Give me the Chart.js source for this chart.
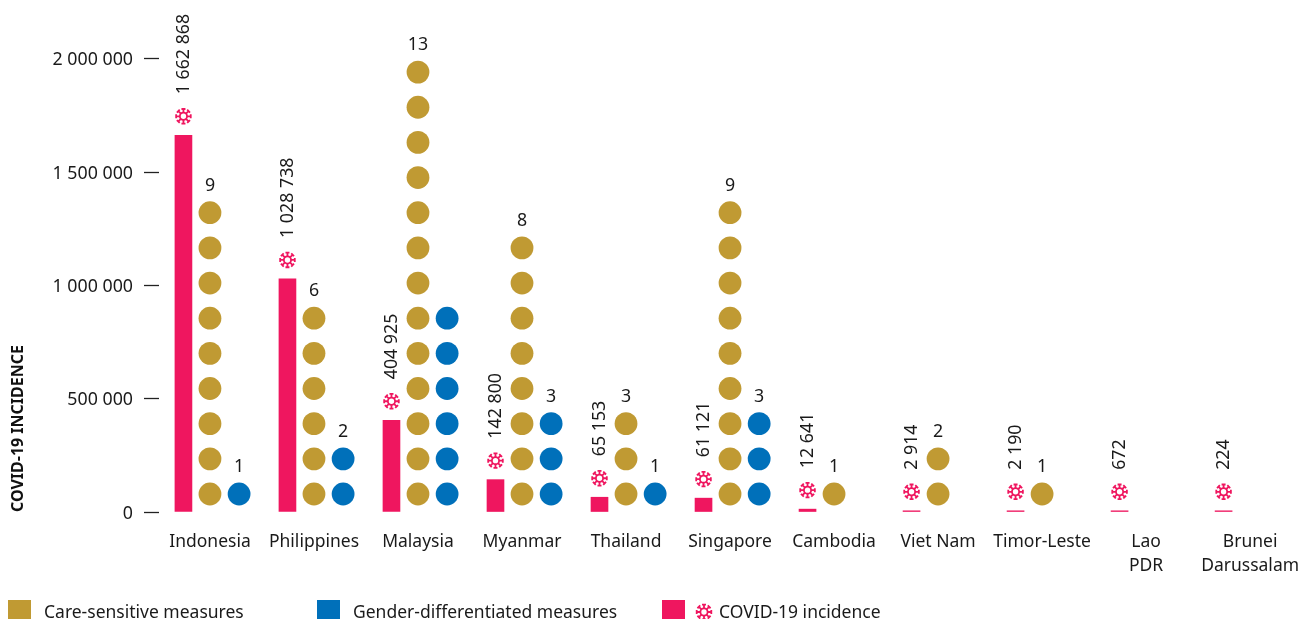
<!DOCTYPE html>
<html><head><meta charset="utf-8">
<script src="https://cdn.jsdelivr.net/npm/chart.js@4"></script>
<style>
html,body{margin:0;padding:0;background:#fff;width:1299px;height:619px;overflow:hidden;position:relative}
canvas#c{position:absolute;left:0;top:0}
.lg{position:absolute;font:17.5px "Noto Sans",sans-serif;color:#1a1a1a;white-space:nowrap;line-height:24px;top:599px}
.sq{position:absolute;top:600px;width:23px;height:24px}
</style></head><body>
<canvas id="c" width="1299" height="619"></canvas>
<div class="sq" style="left:8px;background:#c09a33"></div><div class="lg" style="left:44px">Care-sensitive measures</div>
<div class="sq" style="left:317px;background:#0070ba"></div><div class="lg" style="left:353px">Gender-differentiated measures</div>
<div class="sq" style="left:662px;background:#ef165f"></div><canvas id="lgIcon" width="20" height="20" style="position:absolute;left:694px;top:602px"></canvas><div class="lg" style="left:719px">COVID-19 incidence</div>
<script>
const categories=["Indonesia","Philippines","Malaysia","Myanmar","Thailand","Singapore","Cambodia","Viet Nam","Timor-Leste",["Lao","PDR"],["Brunei","Darussalam"]];
const incidence=[1662868,1028738,404925,142800,65153,61121,12641,2914,2190,672,224];
const careMeasures=[9,6,13,8,3,9,1,2,1,0,0];
const genderMeasures=[1,2,6,3,1,3,0,0,0,0,0];
const genderLabelled=[true,true,false,true,true,true,false,false,false,false,false];
const yTicks=[0,500000,1000000,1500000,2000000];
const PINK="#ef165f",GOLD="#c09a33",BLUE="#0070ba",INK="#1a1a1a",FONT='"Noto Sans",sans-serif';
const BAR_OFF=-0.255,GENDER_OFF=0.28;
const fmt=v=>String(v).replace(/\B(?=(\d{3})+$)/g," ");
function virus(ctx,x,y){
  ctx.save();ctx.translate(x,y);ctx.strokeStyle=PINK;ctx.lineWidth=1.8;
  ctx.beginPath();ctx.arc(0,0,3.6,0,Math.PI*2);ctx.stroke();
  for(let i=0;i<8;i++){ctx.save();ctx.rotate(i*Math.PI/4);ctx.beginPath();ctx.moveTo(0,-3.6);ctx.lineTo(0,-7.6);ctx.moveTo(-2,-7.3);ctx.lineTo(2,-7.3);ctx.stroke();ctx.restore();}
  ctx.restore();
}
virus(document.getElementById('lgIcon').getContext('2d'),10,10);
const dots=(counts,off)=>counts.flatMap((n,i)=>Array.from({length:n},(_,k)=>({x:i+off,y:k+1})));
const noPad=s=>{s.getPadding=()=>({left:0,right:0,top:0,bottom:0});};
const annotate={id:'annotate',afterDatasetsDraw(chart){
  const ctx=chart.ctx,bars=chart.getDatasetMeta(0).data,y2=chart.scales.y2,x=chart.scales.x;
  ctx.save();ctx.fillStyle=INK;ctx.font='17.8px '+FONT;
  bars.forEach((b,i)=>{
    virus(ctx,b.x,b.y-19);
    ctx.save();ctx.translate(b.x,b.y-41);ctx.rotate(-Math.PI/2);ctx.textAlign='left';ctx.textBaseline='middle';ctx.fillText(fmt(incidence[i]),0,0);ctx.restore();
    ctx.textAlign='center';ctx.textBaseline='middle';
    if(careMeasures[i]>0)ctx.fillText(careMeasures[i],x.getPixelForValue(i),y2.getPixelForValue(careMeasures[i])-27);
    if(genderMeasures[i]>0&&genderLabelled[i])ctx.fillText(genderMeasures[i],x.getPixelForValue(i+GENDER_OFF),y2.getPixelForValue(genderMeasures[i])-27);
  });
  ctx.restore();
}};
new Chart(document.getElementById('c'),{
  type:'bar',
  data:{datasets:[
    {label:'COVID-19 incidence',data:incidence.map((v,i)=>({x:i+BAR_OFF,y:v})),backgroundColor:PINK,barThickness:17,minBarLength:1.2,xAxisID:'x',yAxisID:'y',order:1},
    {type:'scatter',label:'Care-sensitive measures',data:dots(careMeasures,0),backgroundColor:GOLD,borderWidth:0,pointRadius:11.4,xAxisID:'x',yAxisID:'y2'},
    {type:'scatter',label:'Gender-differentiated measures',data:dots(genderMeasures,GENDER_OFF),backgroundColor:BLUE,borderWidth:0,pointRadius:11.4,xAxisID:'x',yAxisID:'y2'}
  ]},
  options:{responsive:false,animation:false,
    layout:{padding:0,autoPadding:false},
    plugins:{legend:{display:false},tooltip:{enabled:false}},
    scales:{
      x:{type:'linear',offset:false,min:-0.49,max:10.47,
        afterBuildTicks(s){s.ticks=categories.map((_,i)=>({value:i}));},
        afterFit(s){s.height=107;noPad(s);},
        grid:{display:false},border:{display:false},
        ticks:{autoSkip:false,maxRotation:0,padding:10,color:INK,font:{size:17.5,family:FONT,lineHeight:1.37},callback:(v)=>categories[v]}},
      y:{type:'linear',min:0,max:2260000,
        afterBuildTicks(s){s.ticks=yTicks.map(v=>({value:v}));},
        afterFit(s){s.width=159;noPad(s);},
        grid:{drawOnChartArea:false,drawTicks:true,tickLength:15,tickColor:'#222',tickWidth:1.3},border:{display:false},
        title:{display:true,text:'COVID-19 INCIDENCE',align:'start',color:'#111',font:{size:16,weight:'bold',family:FONT},padding:{top:9,bottom:0}},
        ticks:{padding:11,labelOffset:1.5,color:INK,font:{size:17.8,family:FONT},callback:v=>fmt(v)}},
      y2:{type:'linear',display:false,min:0.488,max:15.05}
    }},
  plugins:[annotate]
});
</script></body></html>
